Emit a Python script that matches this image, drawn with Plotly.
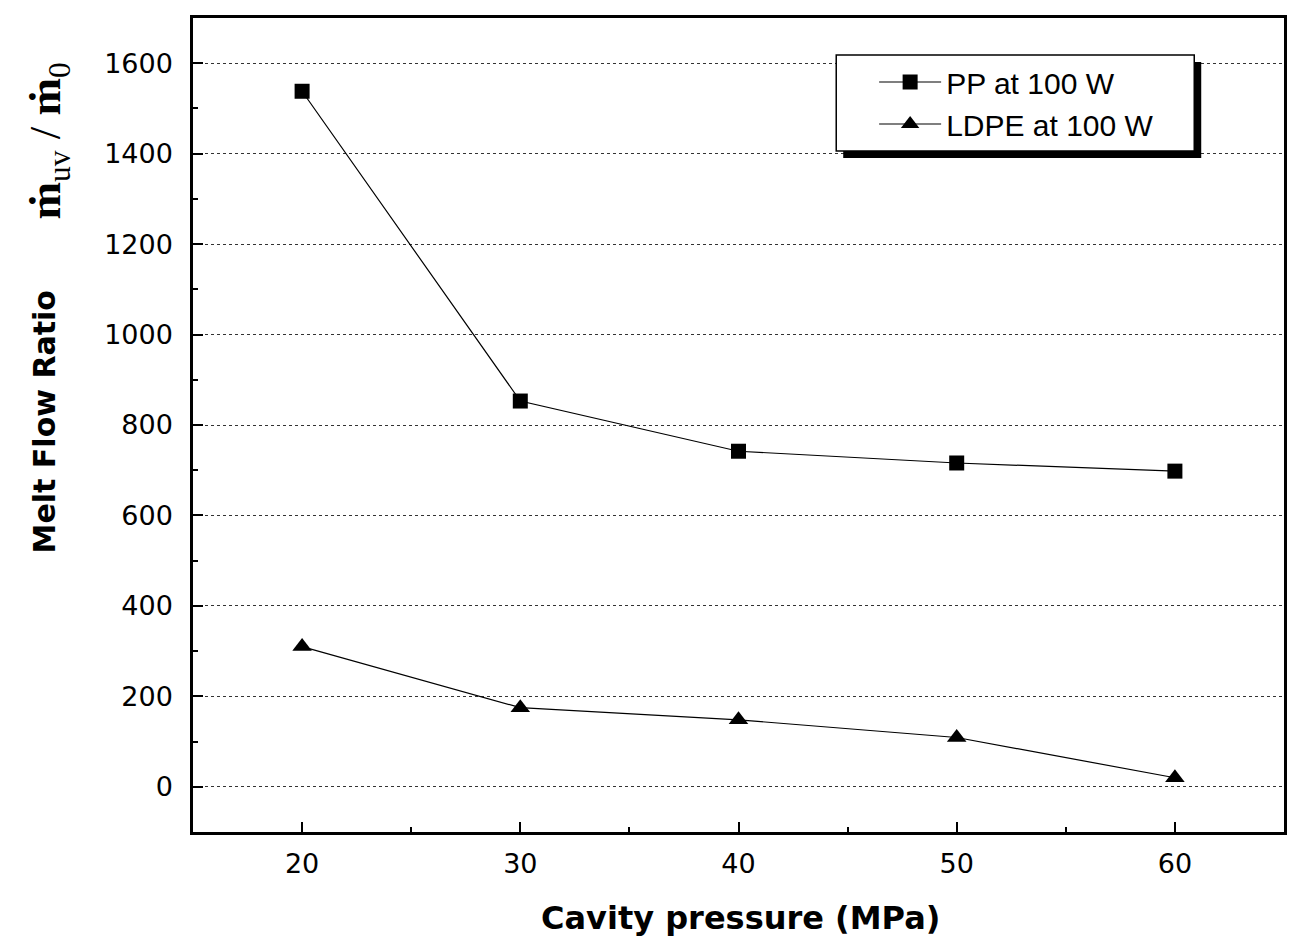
import plotly.graph_objects as go

pressure = [20, 30, 40, 50, 60]
pp_100w = [1538, 853, 742, 716, 698]
ldpe_100w = [310, 175, 148, 109, 20]
y_ticks = [0, 200, 400, 600, 800, 1000, 1200, 1400, 1600]
x_ticks = [20, 30, 40, 50, 60]

L, R, T, B = 193, 7, 18, 116
W, H = 1294, 948
pw, ph = W - L - R, H - T - B

def px(x):
    return (x - L) / pw

def py(y):
    return (H - B - y) / ph

fig = go.Figure()
fig.add_trace(go.Scatter(x=pressure, y=pp_100w, mode="lines+markers", name="PP at 100 W",
                         line=dict(color="black", width=1.2),
                         marker=dict(symbol="square", size=15, color="black")))
fig.add_trace(go.Scatter(x=pressure, y=ldpe_100w, mode="lines+markers", name="LDPE at 100 W",
                         line=dict(color="black", width=1.2),
                         marker=dict(symbol="triangle-up", size=17, color="black")))

# legend box with shadow
fig.add_shape(type="rect", xref="paper", yref="paper", x0=px(845), x1=px(1204), y0=py(158), y1=py(62),
              fillcolor="black", line=dict(width=0), layer="above")
fig.add_shape(type="rect", xref="paper", yref="paper", x0=px(838), x1=px(1197), y0=py(151), y1=py(55),
              fillcolor="white", line=dict(color="black", width=1.5), layer="above")

tickfont = dict(family="DejaVu Sans", size=27, color="black")
axis_common = dict(showline=True, linecolor="black", linewidth=2.5, mirror=True,
                   ticks="inside", ticklen=10, tickwidth=2, tickcolor="black",
                   tickfont=tickfont, zeroline=False)

fig.update_layout(
    width=W, height=H,
    margin=dict(l=L, r=R, t=T, b=B),
    paper_bgcolor="white", plot_bgcolor="white",
    showlegend=True,
    legend=dict(x=px(876), y=py(56), xanchor="left", yanchor="top",
                bgcolor="rgba(0,0,0,0)", borderwidth=0,
                font=dict(family="Liberation Sans, Arial", size=30, color="black"),
                itemwidth=62, tracegroupgap=0),
    xaxis=dict(range=[15, 65], tickvals=x_ticks, showgrid=False, ticklabelstandoff=6,
               minor=dict(ticks="inside", ticklen=5, tickwidth=1.5, tickcolor="black", dtick=5),
               **axis_common),
    yaxis=dict(range=[-100, 1700], tickvals=y_ticks, showgrid=True, ticklabelstandoff=12,
               gridcolor="#333333", griddash="dot", gridwidth=1.2,
               minor=dict(ticks="inside", ticklen=5, tickwidth=1.5, tickcolor="black", dtick=100, showgrid=False),
               **axis_common),
)

fig.add_annotation(text="<b>Cavity pressure (MPa)</b>", xref="paper", yref="paper",
                   x=px(742), y=py(918), xanchor="center", yanchor="middle", showarrow=False,
                   font=dict(family="DejaVu Sans", size=32, color="black"))
fig.add_annotation(text="<b>Melt Flow Ratio</b>", xref="paper", yref="paper", textangle=-90,
                   x=px(44), y=py(422), xanchor="center", yanchor="middle", showarrow=False,
                   font=dict(family="DejaVu Sans", size=30, color="black"))
fig.add_annotation(text="<b>ṁ</b><sub>uv</sub> / <b>ṁ</b><sub>0</sub>", xref="paper", yref="paper", textangle=-90,
                   x=px(48), y=py(141), xanchor="center", yanchor="middle", showarrow=False,
                   font=dict(family="Liberation Serif", size=45, color="black"))

fig.write_html("out.html")
